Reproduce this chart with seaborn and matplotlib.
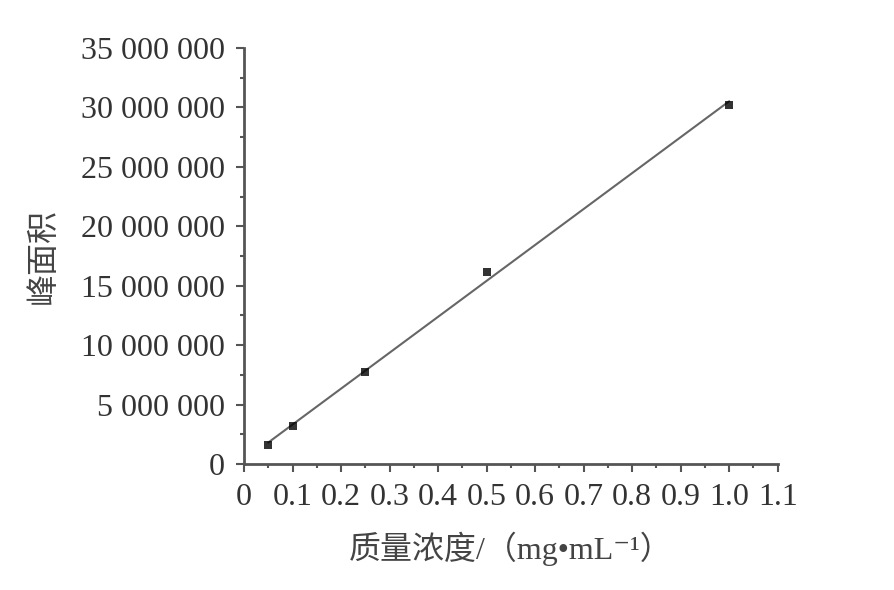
import numpy as np
import pandas as pd
import matplotlib
matplotlib.use("Agg")
import matplotlib.pyplot as plt
from matplotlib.ticker import FuncFormatter, MultipleLocator
import seaborn as sb

# data
conc = [0.05, 0.1, 0.25, 0.5, 1.0]
area = [1600000, 3200000, 7750000, 16150000, 30200000]

df = pd.DataFrame({"conc": conc, "area": area})

sb.set_style("ticks")
plt.rcParams['font.family'] = ['Liberation Serif', 'Noto Sans CJK SC', 'DejaVu Sans']

fig = plt.figure(figsize=(8.95, 5.9), dpi=100)
ax = fig.add_axes([0.2726, 0.2136, 0.869 - 0.2726, 0.9186 - 0.2136])

sb.regplot(data=df, x="conc", y="area", ax=ax, ci=None, truncate=True, marker="s",
           scatter_kws=dict(s=38, color="black", zorder=3, linewidths=0),
           line_kws=dict(color="#666666", lw=1.5))

ax.set_xlim(0, 1.1)
ax.set_ylim(0, 35000000)
ax.xaxis.set_major_locator(MultipleLocator(0.1))
ax.xaxis.set_minor_locator(MultipleLocator(0.05))
ax.yaxis.set_major_locator(MultipleLocator(5000000))
ax.yaxis.set_minor_locator(MultipleLocator(2500000))

def xfmt(v, pos):
    if abs(v) < 1e-9:
        return "0"
    return "%.1f" % v

def yfmt(v, pos):
    return "{:,}".format(int(round(v))).replace(",", " ")

ax.xaxis.set_major_formatter(FuncFormatter(xfmt))
ax.yaxis.set_major_formatter(FuncFormatter(yfmt))

for s in ["top", "right"]:
    ax.spines[s].set_visible(False)
for s in ["left", "bottom"]:
    ax.spines[s].set_color("#555555")
    ax.spines[s].set_linewidth(2)

ax.tick_params(which="major", length=6, width=1.5, color="#555555", labelsize=23, pad=8, labelcolor="#333333")
ax.tick_params(which="minor", length=3, width=1.5, color="#555555")

ax.set_xlabel("质量浓度/（mg•mL⁻¹）", fontsize=23, color="#444444", labelpad=14)
ax.set_ylabel("峰面积", fontsize=23, color="#444444", labelpad=16)

plt.savefig("out.png", dpi=100)
